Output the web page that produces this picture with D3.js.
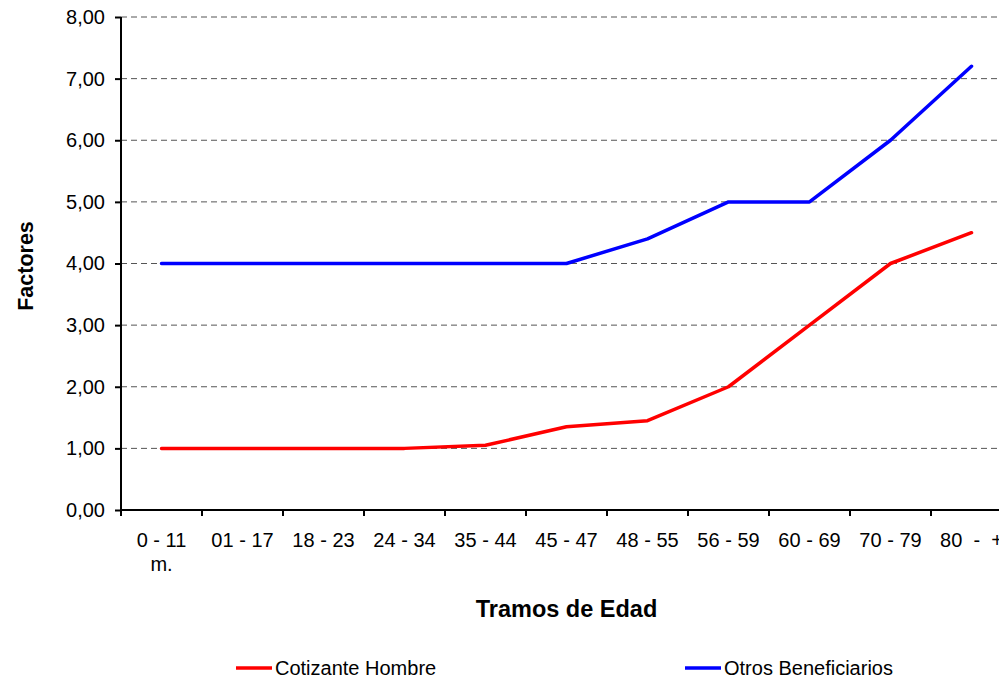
<!DOCTYPE html>
<html>
<head>
<meta charset="utf-8">
<script src="https://cdn.jsdelivr.net/npm/d3@7"></script>
<style>
  body { margin: 0; background: #fff; }
  svg { display: block; font-family: "Liberation Sans", Arial, sans-serif; }
</style>
</head>
<body>
<svg id="chart" width="999" height="679"></svg>
<script>
// age brackets and factor values
const tramos = ["0 - 11 m.", "01 - 17", "18 - 23", "24 - 34", "35 - 44", "45 - 47",
                "48 - 55", "56 - 59", "60 - 69", "70 - 79", "80  -  +"]
const cotizanteHombre = [1, 1, 1, 1, 1.05, 1.35, 1.45, 2, 3, 4, 4.5]
const otrosBeneficiarios = [4, 4, 4, 4, 4, 4, 4.4, 5, 5, 6, 7.2]
const yTicks = [0, 1, 2, 3, 4, 5, 6, 7, 8]

const series = [
  {name: "Cotizante Hombre", values: cotizanteHombre, color: "#ff0000"},
  {name: "Otros Beneficiarios", values: otrosBeneficiarios, color: "#0000ff"}
]

const layout = {left: 121, right: 1012, top: 17, bottom: 510}

const svg = d3.select("#chart")

const xScale = d3.scaleBand()
                 .domain(tramos)
                 .range([layout.left, layout.right])

const yScale = d3.scaleLinear()
                 .domain([0, 8])
                 .range([layout.bottom, layout.top])

const fmt = d => d3.format(".2f")(d).replace(".", ",")

// dashed grid
svg.append("g")
   .selectAll("line")
   .data(yTicks.filter(d => d > 0))
   .join("line")
   .attr("x1", layout.left)
   .attr("x2", layout.right)
   .attr("y1", d => yScale(d))
   .attr("y2", d => yScale(d))
   .attr("stroke", "#555")
   .attr("stroke-width", 1)
   .attr("stroke-dasharray", "6,4")

// y axis
const yAxis = svg.append("g")
   .attr("transform", `translate(${layout.left},0)`)
   .call(d3.axisLeft(yScale).tickValues(yTicks).tickFormat(fmt).tickSize(6).tickPadding(10))
yAxis.select(".domain").attr("stroke", "#000").attr("stroke-width", 2).attr("d", `M0,${layout.top}V${layout.bottom}`)
yAxis.selectAll(".tick line").attr("stroke-width", 2)
yAxis.selectAll("text").style("font-size", "20px").attr("fill", "#000")

// x axis, ticks between categories
const xAxis = svg.append("g")
   .attr("transform", `translate(0,${layout.bottom})`)
xAxis.append("line")
     .attr("x1", layout.left).attr("x2", layout.right)
     .attr("stroke", "#000").attr("stroke-width", 2)
xAxis.selectAll(".tk")
     .data(tramos)
     .join("line")
     .attr("class", "tk")
     .attr("x1", d => xScale(d)).attr("x2", d => xScale(d))
     .attr("y1", 0).attr("y2", 6)
     .attr("stroke", "#000").attr("stroke-width", 2)

const xLabels = xAxis.selectAll(".lbl")
     .data(tramos)
     .join("text")
     .attr("class", "lbl")
     .attr("text-anchor", "middle")
     .style("font-size", "20px")
xLabels.each(function(d) {
  const t = d3.select(this)
  const x = xScale(d) + xScale.bandwidth() / 2
  if (d === "0 - 11 m.") {
    t.append("tspan").attr("x", x).attr("y", 37).text("0 - 11")
    t.append("tspan").attr("x", x).attr("y", 61).text("m.")
  } else {
    t.append("tspan").attr("x", x).attr("y", 37).style("white-space", "pre").text(d)
  }
})

// lines
const line = d3.line()
  .x((d, i) => xScale(tramos[i]) + xScale.bandwidth() / 2)
  .y(d => yScale(d))

svg.append("g")
   .selectAll("path")
   .data(series)
   .join("path")
   .attr("d", d => line(d.values))
   .attr("fill", "none")
   .attr("stroke", d => d.color)
   .attr("stroke-width", 3.5)
   .attr("stroke-linejoin", "round")
   .attr("stroke-linecap", "round")

// axis titles
svg.append("text")
   .attr("transform", "translate(33,266) rotate(-90)")
   .attr("text-anchor", "middle")
   .style("font-size", "21.5px")
   .style("font-weight", "bold")
   .text("Factores")

svg.append("text")
   .attr("x", (layout.left + layout.right) / 2)
   .attr("y", 617)
   .attr("text-anchor", "middle")
   .style("font-size", "23.5px")
   .style("font-weight", "bold")
   .text("Tramos de Edad")

// legend
const legend = svg.append("g")
   .selectAll("g")
   .data(series)
   .join("g")
   .attr("transform", (d, i) => `translate(${i === 0 ? 236 : 685},668)`)
legend.append("line")
      .attr("x1", 0).attr("x2", 36)
      .attr("stroke", d => d.color)
      .attr("stroke-width", 3.5)
legend.append("text")
      .attr("x", 39)
      .attr("y", 7)
      .style("font-size", "20px")
      .text(d => d.name)
</script>
</body>
</html>
